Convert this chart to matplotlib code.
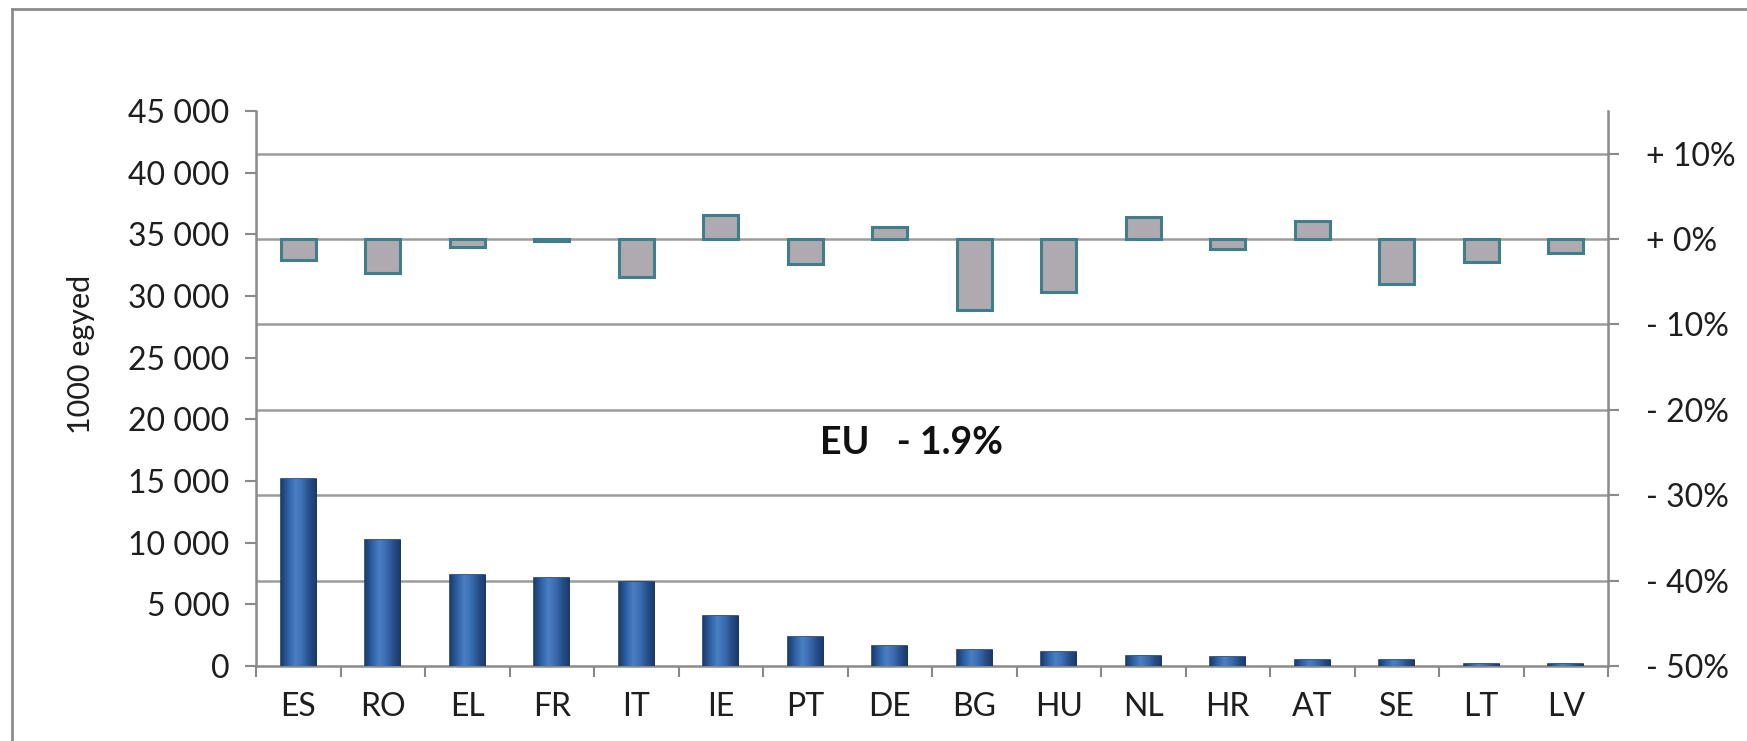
import numpy as np
import matplotlib
matplotlib.use('Agg')
import matplotlib.pyplot as plt
from matplotlib.ticker import FixedLocator, FuncFormatter
from matplotlib.colors import LinearSegmentedColormap
from matplotlib.lines import Line2D

# ---- data ----
countries = ['ES', 'RO', 'EL', 'FR', 'IT', 'IE', 'PT', 'DE', 'BG', 'HU',
             'NL', 'HR', 'AT', 'SE', 'LT', 'LV']
units_thousand = [15200, 10250, 7350, 7100, 6800, 4050, 2350, 1600, 1300,
                  1100, 850, 700, 500, 500, 200, 180]
change_pct = [-2.5, -4.0, -0.9, -0.2, -4.4, 2.8, -2.9, 1.4, -8.3, -6.2,
              2.6, -1.2, 2.1, -5.3, -2.7, -1.6]
left_ticks = [0, 5000, 10000, 15000, 20000, 25000, 30000, 35000, 40000, 45000]
right_ticks = [-50, -40, -30, -20, -10, 0, 10]
y_label = '1000 egyed'
eu_label = 'EU   - 1.9%'

plt.rcParams['font.family'] = ['Lato', 'DejaVu Sans']

fig = plt.figure(figsize=(17.47, 7.41), dpi=100)
fig.patch.set_facecolor('white')

# outer frame (only top & left visible)
fig.add_artist(Line2D([12/1747, 12/1747], [0, 1 - 9/741], transform=fig.transFigure,
                      color='#8c8c8c', lw=2))
fig.add_artist(Line2D([12/1747, 1], [1 - 9/741, 1 - 9/741], transform=fig.transFigure,
                      color='#8c8c8c', lw=2))

rect = [256/1747, 1 - 666/741, (1608 - 256)/1747, (666 - 111)/741]
ax2 = fig.add_axes(rect)          # right axis (percent) - behind
ax1 = fig.add_axes(rect, sharex=ax2)  # left axis (units) - front
ax1.set_zorder(2)
ax2.set_zorder(1)
ax1.patch.set_visible(False)

x = np.arange(len(countries))
spine_col = '#8a8a8a'
grid_col = '#9c9c9c'
txt_col = '#1e1e1e'

# ---- percent change bars (right axis) ----
ax2.bar(x, change_pct, width=0.42, color='#aeaab0', edgecolor='#3f7e8a',
        linewidth=2.2, zorder=3)
ax2.set_ylim(-50, 15)
ax2.yaxis.set_major_locator(FixedLocator(right_ticks))
ax2.yaxis.set_major_formatter(FuncFormatter(
    lambda v, p: ('+ ' if v >= 0 else '- ') + f'{abs(int(round(v)))}%'))
ax2.yaxis.tick_right()
ax2.yaxis.set_label_position('right')
for v in right_ticks[1:]:
    ax2.axhline(v, color=grid_col, lw=1.8, zorder=1)
ax2.tick_params(axis='y', direction='out', length=8, width=1.5, color=spine_col,
                labelsize=23, pad=19, labelcolor=txt_col)
for lbl in ax2.get_yticklabels():
    lbl.set_horizontalalignment('left')
ax2.tick_params(axis='x', which='both', bottom=False, labelbottom=False)
for s in ['top', 'left', 'bottom']:
    ax2.spines[s].set_visible(False)
ax2.spines['right'].set_color(spine_col)
ax2.spines['right'].set_linewidth(1.8)

# ---- unit bars (left axis) ----
bars = ax1.bar(x, units_thousand, width=0.42, color='#2e5e9f',
               edgecolor='#1f3f70', linewidth=1.2, zorder=3)
cmap = LinearSegmentedColormap.from_list(
    'bb', ['#1c3c6e', '#2f62a6', '#4a7fc4', '#3a6cb0', '#264f8a', '#1a3868'])
grad = np.linspace(0, 1, 64).reshape(1, -1)
for b in bars:
    x0, y0 = b.get_x(), b.get_y()
    w, h = b.get_width(), b.get_height()
    im = ax1.imshow(grad, extent=[x0, x0 + w, y0, y0 + h], aspect='auto',
                    cmap=cmap, zorder=3.5, interpolation='bilinear')
    im.set_clip_path(b)

ax1.set_xlim(-0.5, len(countries) - 0.5)
ax1.set_ylim(0, 45000)
ax1.yaxis.set_major_locator(FixedLocator(left_ticks))
ax1.yaxis.set_major_formatter(FuncFormatter(
    lambda v, p: f'{int(v):,}'.replace(',', ' ')))
ax1.tick_params(axis='y', direction='out', length=8, width=1.5, color=spine_col,
                labelsize=23, pad=11, labelcolor=txt_col)
ax1.set_xticks(x)
ax1.set_xticklabels(countries)
ax1.set_xticks(np.arange(len(countries) + 1) - 0.5, minor=True)
ax1.tick_params(axis='x', which='major', length=0, labelsize=23, pad=19,
                labelcolor=txt_col)
ax1.tick_params(axis='x', which='minor', direction='out', length=8, width=1.5,
                color=spine_col)
ax1.set_ylabel(y_label, fontsize=22, color=txt_col)
ax1.yaxis.set_label_coords(-(256 - 95)/1352, (666 - 354)/555)
for s in ['top', 'right']:
    ax1.spines[s].set_visible(False)
for s in ['left', 'bottom']:
    ax1.spines[s].set_color(spine_col)
    ax1.spines[s].set_linewidth(1.8)

ax1.text(0.4845, 0.402, eu_label, transform=ax1.transAxes, ha='center',
         va='center', fontsize=27, fontweight='bold', color='#111111')

fig.savefig('out.png', dpi=100, facecolor='white')
